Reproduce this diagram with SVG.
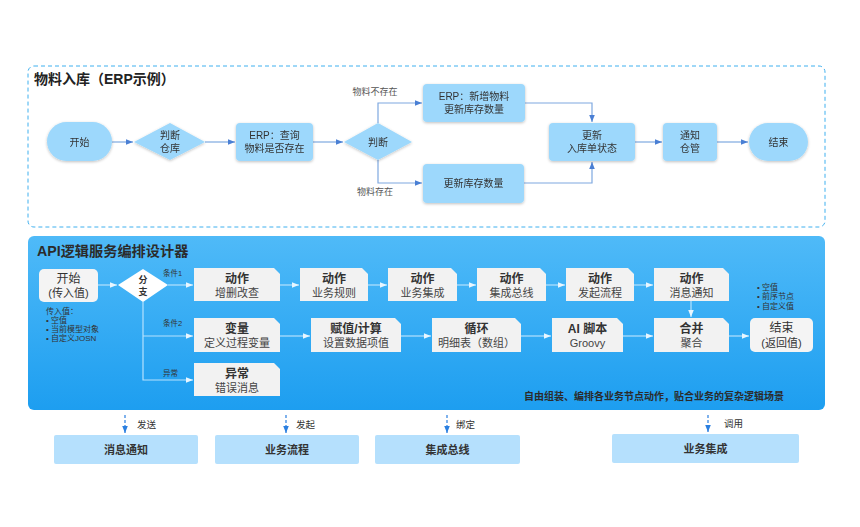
<svg xmlns="http://www.w3.org/2000/svg" width="860" height="527" viewBox="0 0 860 527">
<defs>
<linearGradient id="panel" x1="0" y1="0" x2="0" y2="1">
<stop offset="0" stop-color="#4fbaf8"/>
<stop offset="1" stop-color="#1d9ef0"/>
</linearGradient>
<filter id="glow" x="-20%" y="-30%" width="140%" height="160%">
<feGaussianBlur in="SourceAlpha" stdDeviation="1.5"/>
<feOffset dx="0" dy="1"/>
<feComponentTransfer><feFuncA type="linear" slope="0.25"/></feComponentTransfer>
<feMerge><feMergeNode/><feMergeNode in="SourceGraphic"/></feMerge>
</filter>
<marker id="arT" viewBox="0 0 10 10" refX="10" refY="5" markerWidth="6" markerHeight="6" orient="auto">
<path d="M0,1 L10,5 L0,9 z" fill="#4a7fd4"/>
</marker>
<marker id="arW" viewBox="0 0 10 10" refX="10" refY="5" markerWidth="6" markerHeight="6" orient="auto">
<path d="M0,1 L10,5 L0,9 z" fill="#e8f6ff"/>
</marker>
<marker id="arD" viewBox="0 0 10 10" refX="10" refY="5" markerWidth="6" markerHeight="6" orient="auto">
<path d="M0,1 L10,5 L0,9 z" fill="#2a7fe0"/>
</marker>
</defs>
<style>
text{font-family:"Liberation Sans","Noto Sans CJK SC",sans-serif;}
.tn{fill:#9dd8fc;}
.tt{font-size:10px;fill:#333;text-anchor:middle;}
.tl{font-size:9px;fill:#555;text-anchor:middle;}
.tc{fill:none;stroke:#7ea8e0;stroke-width:1.2;}
.gb{fill:#f2f2f2;}
.gh{font-size:12px;font-weight:bold;fill:#333;text-anchor:middle;}
.gs{font-size:11px;fill:#444;text-anchor:middle;}
.wc{fill:none;stroke:#b5e2fd;stroke-width:1.2;}
.lab{font-size:7.5px;fill:#333;}
.lst{font-size:8px;fill:#333;}
.bb{fill:#b5e0fd;}
.bt{font-size:11px;font-weight:bold;fill:#333;text-anchor:middle;}
.dc{fill:none;stroke:#2a7fe0;stroke-width:1.2;stroke-dasharray:3,2;}
.dl{font-size:9.5px;fill:#333;}
</style>

<rect x="28" y="66" width="797" height="161" rx="6" fill="#fff" stroke="#3fb0ef" stroke-width="1" stroke-dasharray="4,3"/>
<text x="34" y="84" font-size="14" font-weight="bold" fill="#222">物料入库（ERP示例）</text>

<g id="connectors-top">
<path class="tc" d="M112,142 H133" marker-end="url(#arT)"/>
<path class="tc" d="M205,142 H235" marker-end="url(#arT)"/>
<path class="tc" d="M313,142 H343" marker-end="url(#arT)"/>
<path class="tc" d="M378,123 V103 H422" marker-end="url(#arT)"/>
<path class="tc" d="M378,160 V183 H422" marker-end="url(#arT)"/>
<path class="tc" d="M525,103 H592 V122" marker-end="url(#arT)"/>
<path class="tc" d="M524,183 H592 V162" marker-end="url(#arT)"/>
<path class="tc" d="M635,142 H662" marker-end="url(#arT)"/>
<path class="tc" d="M717,142 H748" marker-end="url(#arT)"/>
<text class="tl" x="375" y="95">物料不存在</text>
<text class="tl" x="375" y="195">物料存在</text>
</g>

<g id="t-start" filter="url(#glow)"><rect class="tn" x="47" y="122" width="65" height="39" rx="19.5"/><text class="tt" x="79.5" y="145.5">开始</text></g>
<g id="t-judge1" filter="url(#glow)"><polygon class="tn" points="134,142 170,123 205,142 170,160"/><text class="tt" x="170" y="139">判断</text><text class="tt" x="170" y="152">仓库</text></g>
<g id="t-query" filter="url(#glow)"><rect class="tn" x="236" y="123" width="77" height="38" rx="4"/><text class="tt" x="274.5" y="139">ERP：查询</text><text class="tt" x="274.5" y="152">物料是否存在</text></g>
<g id="t-judge2" filter="url(#glow)"><polygon class="tn" points="344,142 378,123 412,142 378,160"/><text class="tt" x="378" y="145.5">判断</text></g>
<g id="t-add" filter="url(#glow)"><rect class="tn" x="423" y="84" width="102" height="38" rx="4"/><text class="tt" x="474" y="100">ERP：新增物料</text><text class="tt" x="474" y="113">更新库存数量</text></g>
<g id="t-update" filter="url(#glow)"><rect class="tn" x="423" y="164" width="101" height="39" rx="4"/><text class="tt" x="473.5" y="187">更新库存数量</text></g>
<g id="t-status" filter="url(#glow)"><rect class="tn" x="549" y="123" width="86" height="38" rx="4"/><text class="tt" x="592" y="139">更新</text><text class="tt" x="592" y="152">入库单状态</text></g>
<g id="t-notify" filter="url(#glow)"><rect class="tn" x="663" y="123" width="54" height="38" rx="4"/><text class="tt" x="690" y="139">通知</text><text class="tt" x="690" y="152">仓管</text></g>
<g id="t-end" filter="url(#glow)"><rect class="tn" x="749" y="123" width="59" height="38" rx="19"/><text class="tt" x="778.5" y="145.5">结束</text></g>

<rect x="28" y="236" width="797" height="174" rx="6" fill="url(#panel)"/>
<text x="37" y="256" font-size="14.2" font-weight="bold" fill="#2b2b2b">API逻辑服务编排设计器</text>

<g id="connectors-api">
<path class="wc" d="M98,285 H117" marker-end="url(#arW)"/>
<path class="wc" d="M168,285 H193" marker-end="url(#arW)"/>
<path class="wc" d="M143,302 V380 H193" marker-end="url(#arW)"/>
<path class="wc" d="M143,336 H193" marker-end="url(#arW)"/>
<path class="wc" d="M280,285 H299" marker-end="url(#arW)"/>
<path class="wc" d="M368,285 H387" marker-end="url(#arW)"/>
<path class="wc" d="M457,285 H476" marker-end="url(#arW)"/>
<path class="wc" d="M546,285 H565" marker-end="url(#arW)"/>
<path class="wc" d="M634,285 H653" marker-end="url(#arW)"/>
<path class="wc" d="M691,301 V317" marker-end="url(#arW)"/>
<path class="wc" d="M280,336 H310" marker-end="url(#arW)"/>
<path class="wc" d="M401,336 H431" marker-end="url(#arW)"/>
<path class="wc" d="M521,336 H551" marker-end="url(#arW)"/>
<path class="wc" d="M623,336 H653" marker-end="url(#arW)"/>
<path class="wc" d="M729,336 H749" marker-end="url(#arW)"/>
<text class="lab" x="163" y="276">条件1</text>
<text class="lab" x="163" y="326">条件2</text>
<text class="lab" x="163" y="376">异常</text>
</g>

<g id="a-start"><rect x="39" y="269" width="59" height="33" rx="5" fill="#f4f4f4"/><text x="68.5" y="283" font-size="12" fill="#333" text-anchor="middle">开始</text><text x="68.5" y="297" font-size="11" fill="#333" text-anchor="middle">(传入值)</text></g>
<g id="a-input-list">
<text class="lst" x="46" y="314">传入值：</text>
<text class="lst" x="46" y="323">• 空值</text>
<text class="lst" x="46" y="332">• 当前模型对象</text>
<text class="lst" x="46" y="341">• 自定义JOSN</text>
</g>
<g id="a-branch"><polygon points="118,285 143,269 168,285 143,302" fill="#fff"/><text x="143" y="283" font-size="9" font-weight="bold" fill="#333" text-anchor="middle">分</text><text x="143" y="295" font-size="9" font-weight="bold" fill="#333" text-anchor="middle">支</text></g>

<g id="a-crud"><path class="gb" d="M194,268 H274 L280,274 V301 H194 Z"/><text class="gh" x="237" y="283">动作</text><text class="gs" x="237" y="297">增删改查</text></g>
<g id="a-rule"><path class="gb" d="M300,268 H362 L368,274 V301 H300 Z"/><text class="gh" x="334" y="283">动作</text><text class="gs" x="334" y="297">业务规则</text></g>
<g id="a-integ"><path class="gb" d="M388,268 H451 L457,274 V301 H388 Z"/><text class="gh" x="422.5" y="283">动作</text><text class="gs" x="422.5" y="297">业务集成</text></g>
<g id="a-bus"><path class="gb" d="M477,268 H540 L546,274 V301 H477 Z"/><text class="gh" x="511.5" y="283">动作</text><text class="gs" x="511.5" y="297">集成总线</text></g>
<g id="a-flow"><path class="gb" d="M566,268 H628 L634,274 V301 H566 Z"/><text class="gh" x="600" y="283">动作</text><text class="gs" x="600" y="297">发起流程</text></g>
<g id="a-msg"><path class="gb" d="M654,268 H723 L729,274 V301 H654 Z"/><text class="gh" x="691.5" y="283">动作</text><text class="gs" x="691.5" y="297">消息通知</text></g>

<g id="a-var"><path class="gb" d="M194,318 H274 L280,324 V352 H194 Z"/><text class="gh" x="237" y="333">变量</text><text class="gs" x="237" y="347">定义过程变量</text></g>
<g id="a-assign"><path class="gb" d="M311,318 H395 L401,324 V352 H311 Z"/><text class="gh" x="356" y="333">赋值/计算</text><text class="gs" x="356" y="347">设置数据项值</text></g>
<g id="a-loop"><path class="gb" d="M432,318 H515 L521,324 V352 H432 Z"/><text class="gh" x="476.5" y="333">循环</text><text class="gs" x="476.5" y="347">明细表（数组）</text></g>
<g id="a-ai"><path class="gb" d="M552,318 H617 L623,324 V352 H552 Z"/><text class="gh" x="587.5" y="333">AI 脚本</text><text class="gs" x="587.5" y="347">Groovy</text></g>
<g id="a-merge"><path class="gb" d="M654,318 H723 L729,324 V352 H654 Z"/><text class="gh" x="691.5" y="333">合并</text><text class="gs" x="691.5" y="347">聚合</text></g>
<g id="a-end"><rect x="750" y="318" width="63" height="34" rx="5" fill="#f4f4f4"/><text x="781.5" y="332" font-size="12" fill="#333" text-anchor="middle">结束</text><text x="781.5" y="347" font-size="11" fill="#333" text-anchor="middle">(返回值)</text></g>
<g id="a-output-list">
<text class="lst" x="757" y="290">• 空值</text>
<text class="lst" x="757" y="299">• 前序节点</text>
<text class="lst" x="757" y="309">• 自定义值</text>
</g>
<g id="a-err"><path class="gb" d="M194,363 H274 L280,369 V396 H194 Z"/><text class="gh" x="237" y="378">异常</text><text class="gs" x="237" y="392">错误消息</text></g>

<text x="784" y="400" font-size="10" font-weight="bold" fill="#2b2b2b" text-anchor="end">自由组装、编排各业务节点动作，贴合业务的复杂逻辑场景</text>

<g id="connectors-bottom">
<path class="dc" d="M125,415 V433" marker-end="url(#arD)"/>
<path class="dc" d="M286,415 V433" marker-end="url(#arD)"/>
<path class="dc" d="M447,415 V433" marker-end="url(#arD)"/>
<path class="dc" d="M708,415 V432" marker-end="url(#arD)"/>
<text class="dl" x="137" y="428">发送</text>
<text class="dl" x="296" y="428">发起</text>
<text class="dl" x="456" y="428">绑定</text>
<text class="dl" x="724" y="427">调用</text>
</g>
<g id="b-msg"><rect class="bb" x="54" y="435" width="144" height="29" rx="2"/><text class="bt" x="126" y="453.5">消息通知</text></g>
<g id="b-flow"><rect class="bb" x="215" y="435" width="144" height="29" rx="2"/><text class="bt" x="287" y="453.5">业务流程</text></g>
<g id="b-bus"><rect class="bb" x="375" y="435" width="145" height="29" rx="2"/><text class="bt" x="447.5" y="453.5">集成总线</text></g>
<g id="b-integ"><rect class="bb" x="612" y="434" width="187" height="29" rx="2"/><text class="bt" x="705.5" y="452.5">业务集成</text></g>
</svg>
